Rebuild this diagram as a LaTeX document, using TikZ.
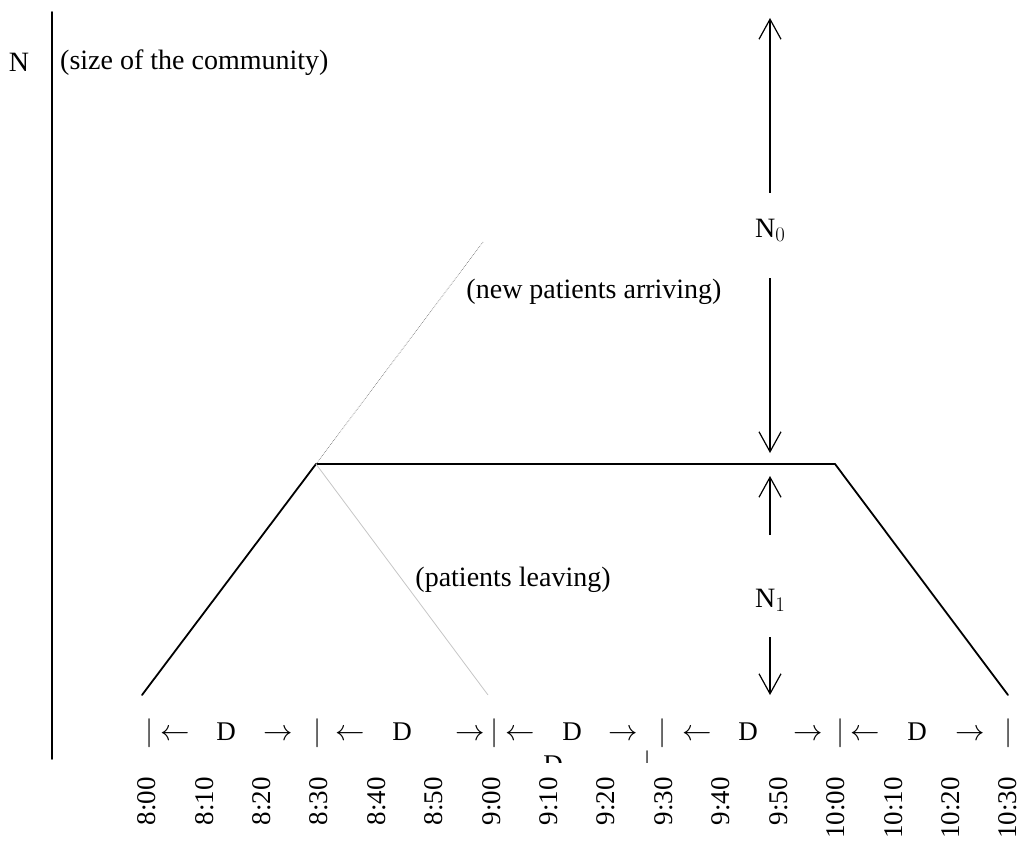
\documentclass[tikz,border=0pt]{standalone}
\usepackage{graphicx}
\usepackage{fontspec}
\setmainfont{Liberation Serif}
\usetikzlibrary{arrows.meta}
\newcommand{\mathglyph}[2]{\scalebox{#1}{\fontsize{20.74}{24}\selectfont$#2$}}
\newcommand{\subdigit}[1]{\raisebox{-4pt}{\fontsize{20.74}{24}\selectfont$#1$}}
\begin{document}
\begin{tikzpicture}[x=1pt,y=-1pt,
  txt/.style={inner sep=0pt,font=\fontsize{27}{32}\selectfont},
  bigtxt/.style={inner sep=0pt,font=\fontsize{28}{33}\selectfont},
  thick line/.style={line width=1.8pt,line cap=round},
  harrow/.style={line width=1.2pt,-{Straight Barb[length=20pt,width=22pt,line width=1.2pt]}},
  timelab/.style={txt,rotate=90,anchor=east},
  drow/.style={txt,anchor=base}]
\useasboundingbox (0,0) rectangle (1022,842);
% axis
\coordinate (axtop) at (52,12);
\coordinate (axbot) at (52,759);
\draw[thick line] (axtop) -- (axbot);
\node[bigtxt] (Nlab) at (19,62) {N};
\node[bigtxt,anchor=west] (sizelab) at (60,63) {(size of the community)};
% trapezoid
\coordinate (p1) at (142,695);
\coordinate (p2) at (316,464);
\coordinate (p3) at (835,464);
\coordinate (p4) at (1008,695);
\draw[thick line,line join=round] (p1) -- (p2) -- (p3) -- (p4);
\coordinate (dottop) at (483,242);
\coordinate (greybot) at (488,695);
\draw[gray,line width=0.7pt,densely dotted] (p2) -- (dottop);
\draw[gray!45,line width=0.8pt] (p2) -- (greybot);
\node[bigtxt] (newlab) at (594,292) {(new patients arriving)};
\node[bigtxt] (leavelab) at (513,580) {(patients leaving)};
% N0 / N1 arrows
\node[bigtxt] (N0) at (770,230) {N\subdigit{0}};
\node[bigtxt] (N1) at (770,600) {N\subdigit{1}};
\coordinate (a1s) at (770,193);
\coordinate (a1e) at (770,18);
\coordinate (a2s) at (770,278);
\coordinate (a2e) at (770,453);
\coordinate (a3s) at (770,535);
\coordinate (a3e) at (770,476);
\coordinate (a4s) at (770,637);
\coordinate (a4e) at (770,695);
\draw[harrow] (a1s) -- (a1e);
\draw[harrow] (a2s) -- (a2e);
\draw[harrow] (a3s) -- (a3e);
\draw[harrow] (a4s) -- (a4e);
% D row
\foreach \x [count=\i] in {150,318,495,663,841,1009}
  \node[drow] (bar\i) at (\x,740) {\mathglyph{1.4}{|}};
\foreach \l/\d/\r [count=\i] in {175/226/278,350/402/470,520/572/623,697/748/808,865/917/970}{
  \node[drow] (la\i) at (\l,740) {\mathglyph{1.42}{\leftarrow}};
  \node[drow] (D\i) at (\d,740) {D};
  \node[drow] (ra\i) at (\r,740) {\mathglyph{1.42}{\rightarrow}};
}
% partly hidden row
\begin{scope}
\clip (0,745) rectangle (1022,762);
\node[drow] (Dhid) at (553,773) {D};
\node[drow] (barhid) at (648,772) {\mathglyph{1.4}{|}};
\end{scope}
% time labels
\foreach \t [count=\i from 0] in {8:00,8:10,8:20,8:30,8:40,8:50,9:00,9:10,9:20,9:30,9:40,9:50,10:00,10:10,10:20,10:30}
  \node[timelab] (t\i) at ({147+57.4*\i},777) {\t};
\end{tikzpicture}
\end{document}
